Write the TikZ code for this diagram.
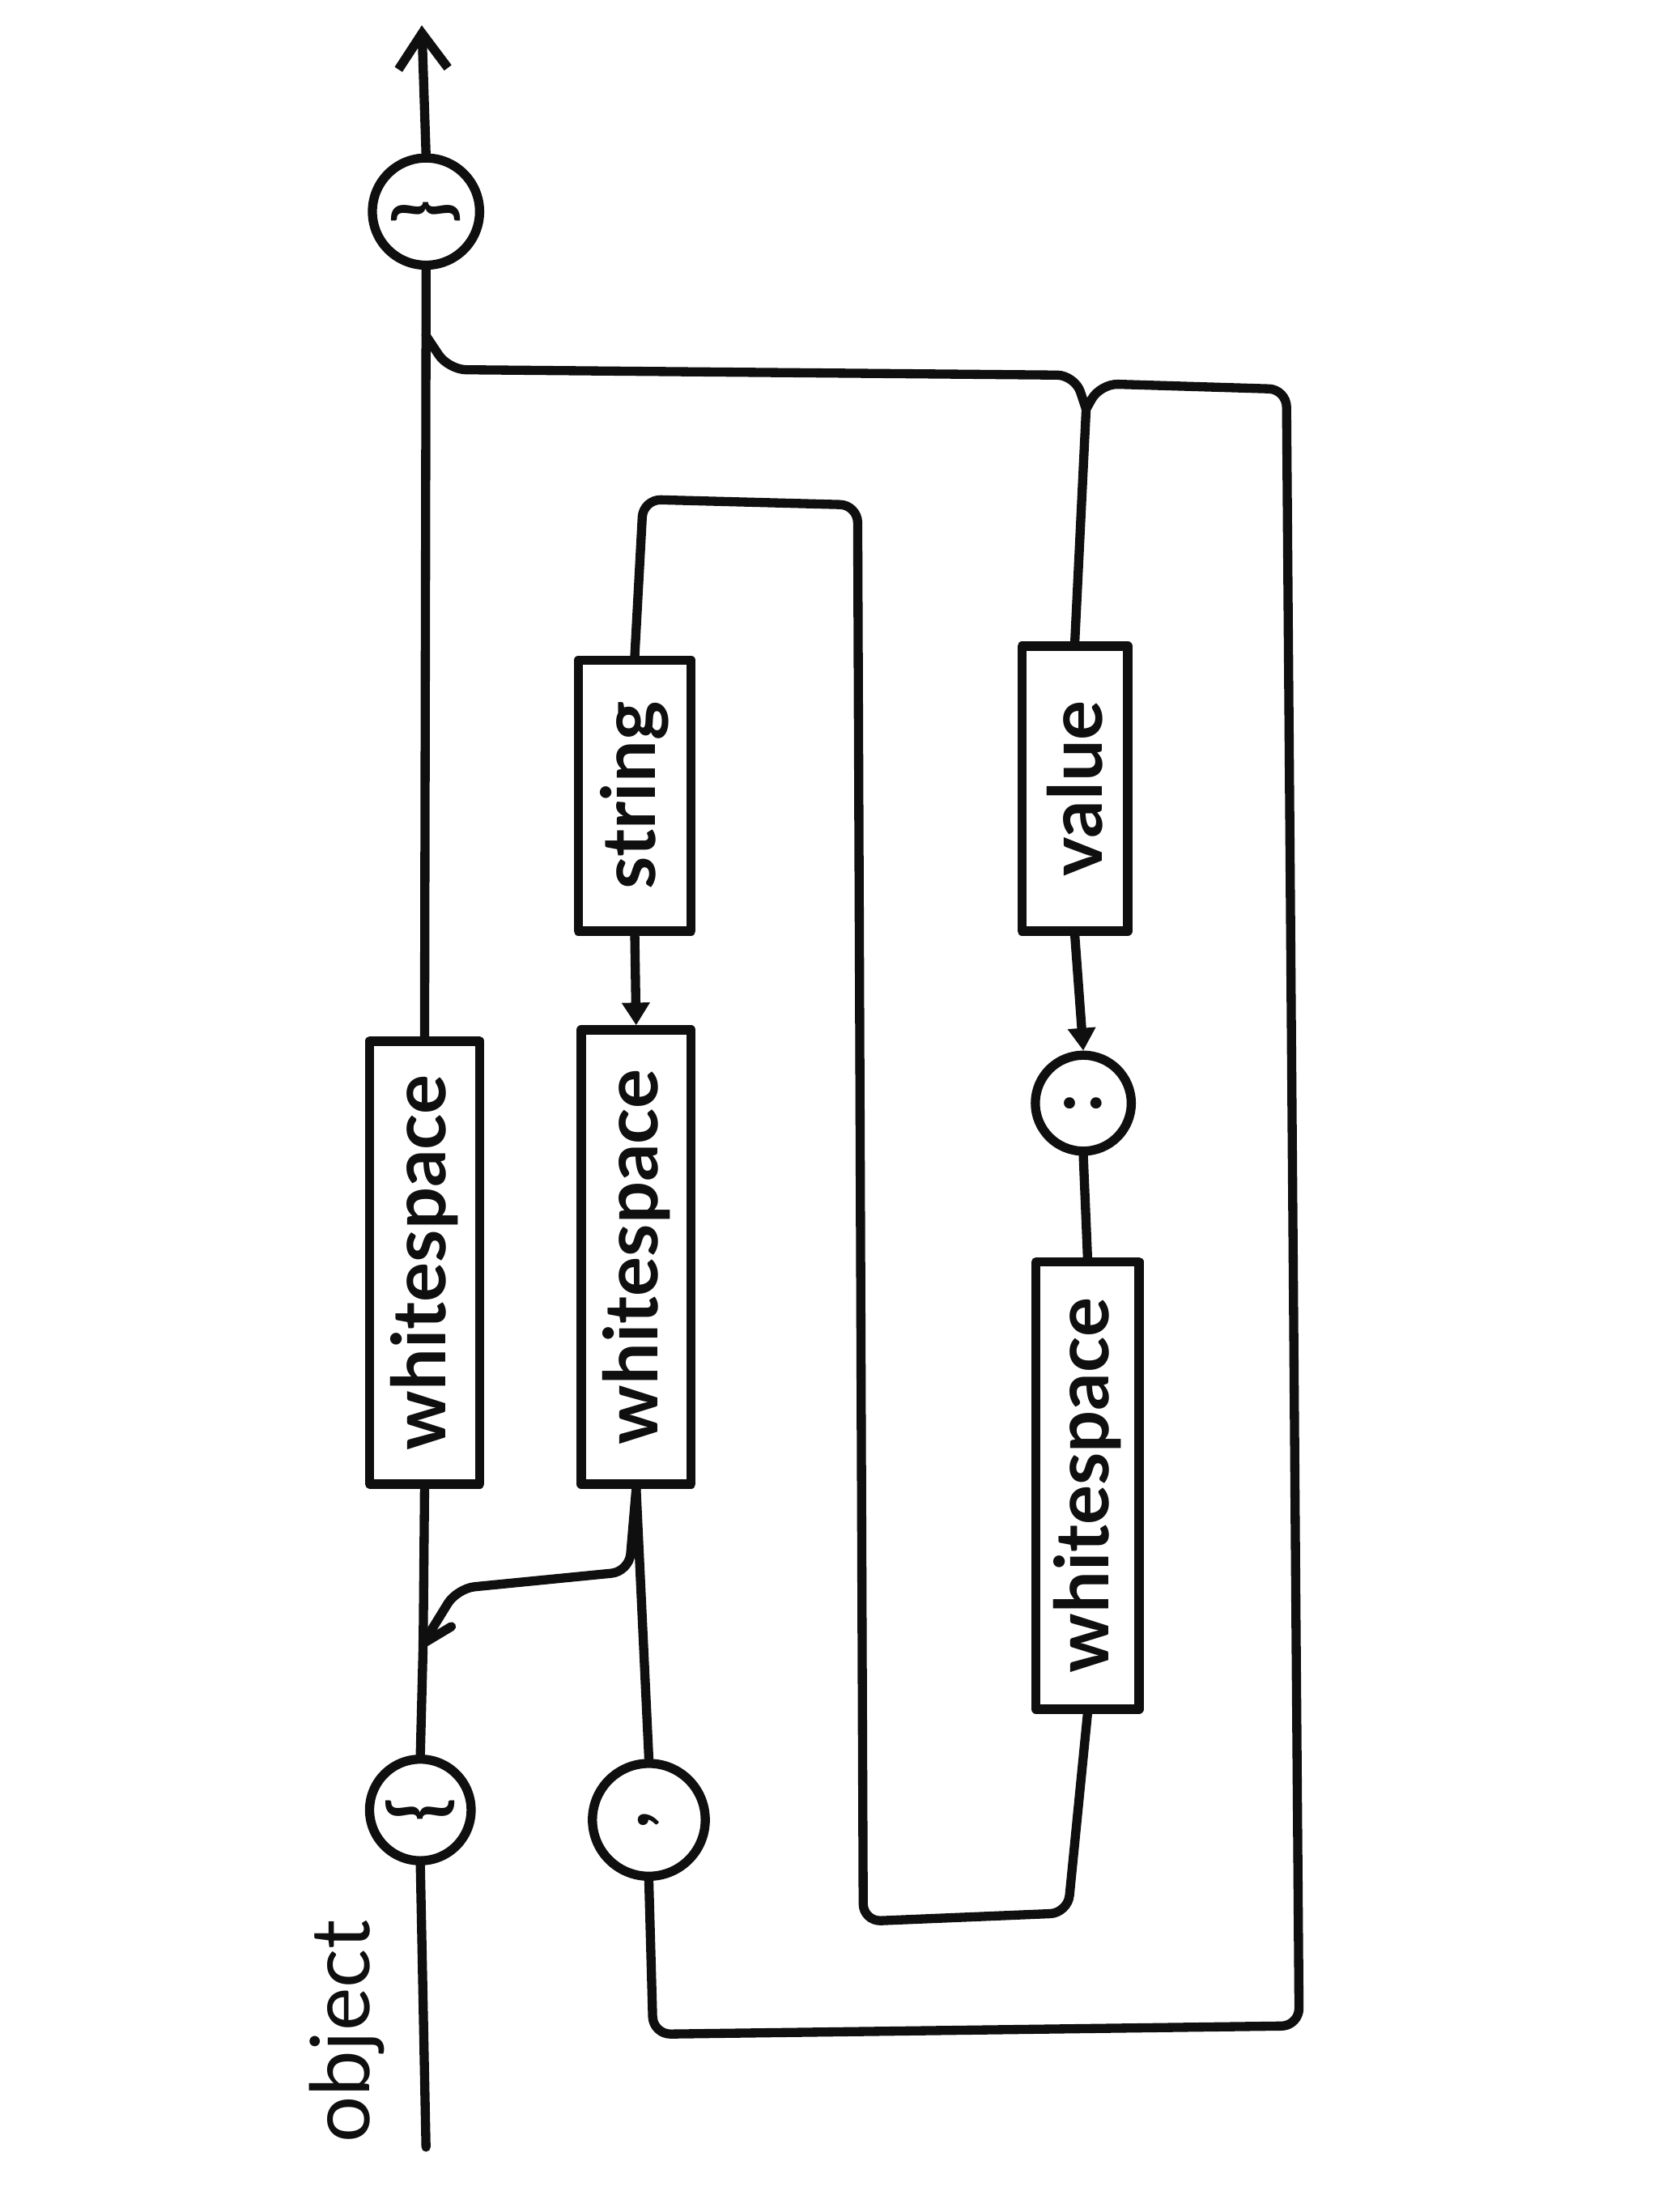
\documentclass[tikz,border=0pt]{standalone}
\usepackage{fontspec}
\setmainfont{Lato}
\usetikzlibrary{arrows.meta}
\begin{document}
\begin{tikzpicture}[x=0.2mm, y=-0.2mm,
  ink/.style={line width=1.3mm, draw=black!94, line cap=round, line join=round},
  wire/.style={ink, rounded corners=2.5mm},
  lbl/.style={font=\bfseries\fontsize{30}{36}\selectfont, text=black!94},
  term/.style={ink, lbl, rectangle, inner sep=0pt},
  tok/.style={ink, lbl, circle, inner sep=0pt},
  tip/.style={-{Straight Barb[length=5mm, width=7mm, line width=1.3mm]}},
  small tip/.style={-{Triangle[length=3.2mm, width=3.8mm]}},
]
\fill[white] (0,0) rectangle (1175,1568);
\useasboundingbox (0,0) rectangle (1175,1568);

% label of the rule
\node[lbl, font=\fontsize{33}{38}\selectfont] (title) at (246,1440) {\rotatebox{90}{object}};

% terminals
\node[tok, minimum size=14.4mm] (lbrace) at (298,1283) {\rotatebox{90}{\{}};
\node[tok, minimum size=15.2mm] (rbrace) at (302,150)  {\rotatebox{90}{\}}};
\node[tok, minimum size=16mm]   (comma)  at (460,1290) {\rotatebox{90}{,}};
\node[tok, minimum size=13.6mm] (colon)  at (768,782)  {\rotatebox{90}{:}};

% non-terminals
\node[term, minimum width=15.6mm, minimum height=62.8mm] (ws1) at (301,895)  {\rotatebox{90}{whitespace}};
\node[term, minimum width=15.6mm, minimum height=64.4mm] (ws2) at (451,891)  {\rotatebox{90}{whitespace}};
\node[term, minimum width=16mm,   minimum height=38.4mm] (str) at (450,564)  {\rotatebox{90}{string}};
\node[term, minimum width=14.6mm, minimum height=63.4mm] (ws3) at (771,1053) {\rotatebox{90}{whitespace}};
\node[term, minimum width=15mm,   minimum height=40.4mm] (val) at (762,559)  {\rotatebox{90}{value}};

% junctions and free ends
\coordinate (start) at (302,1522);
\coordinate (j1)    at (300,1165);
\coordinate (barb)  at (320,1153);
\coordinate (j2)    at (302,238);
\coordinate (jv)    at (770,290);
\coordinate (end)   at (299,18);

% main line
\draw[wire] (start) -- (lbrace.south);
\draw[wire] (lbrace.north) -- (j1) -- (ws1.south);
\draw[wire] (ws1.north) -- (j2) -- (rbrace.south);
\draw[ink, tip] (rbrace.north) -- (end);
\draw[ink] (j1) -- (barb);

% into the members
\draw[wire] (ws2.south) -- (446,1114) -- (324,1126) -- (j1);
\draw[wire] (comma.north) -- (ws2.south);
\draw[ink, small tip] (str.south) -- (ws2.north);
\draw[wire] (str.north) -- (456,354) -- (608,358) -- (612,1362) -- (757,1356) -- (ws3.south);
\draw[wire] (ws3.north) -- (colon.south);
\draw[ink, small tip] (val.south) -- (colon.north);
\draw[wire] (val.north) -- (jv);

% back to the closing brace, or round again after a comma
\draw[wire] (jv) -- (762,266) -- (318,262) -- (j2);
\draw[wire] (jv) -- (780,272) -- (912,276) -- (921,1436) -- (463,1442) -- (comma.south);
\end{tikzpicture}
\end{document}
